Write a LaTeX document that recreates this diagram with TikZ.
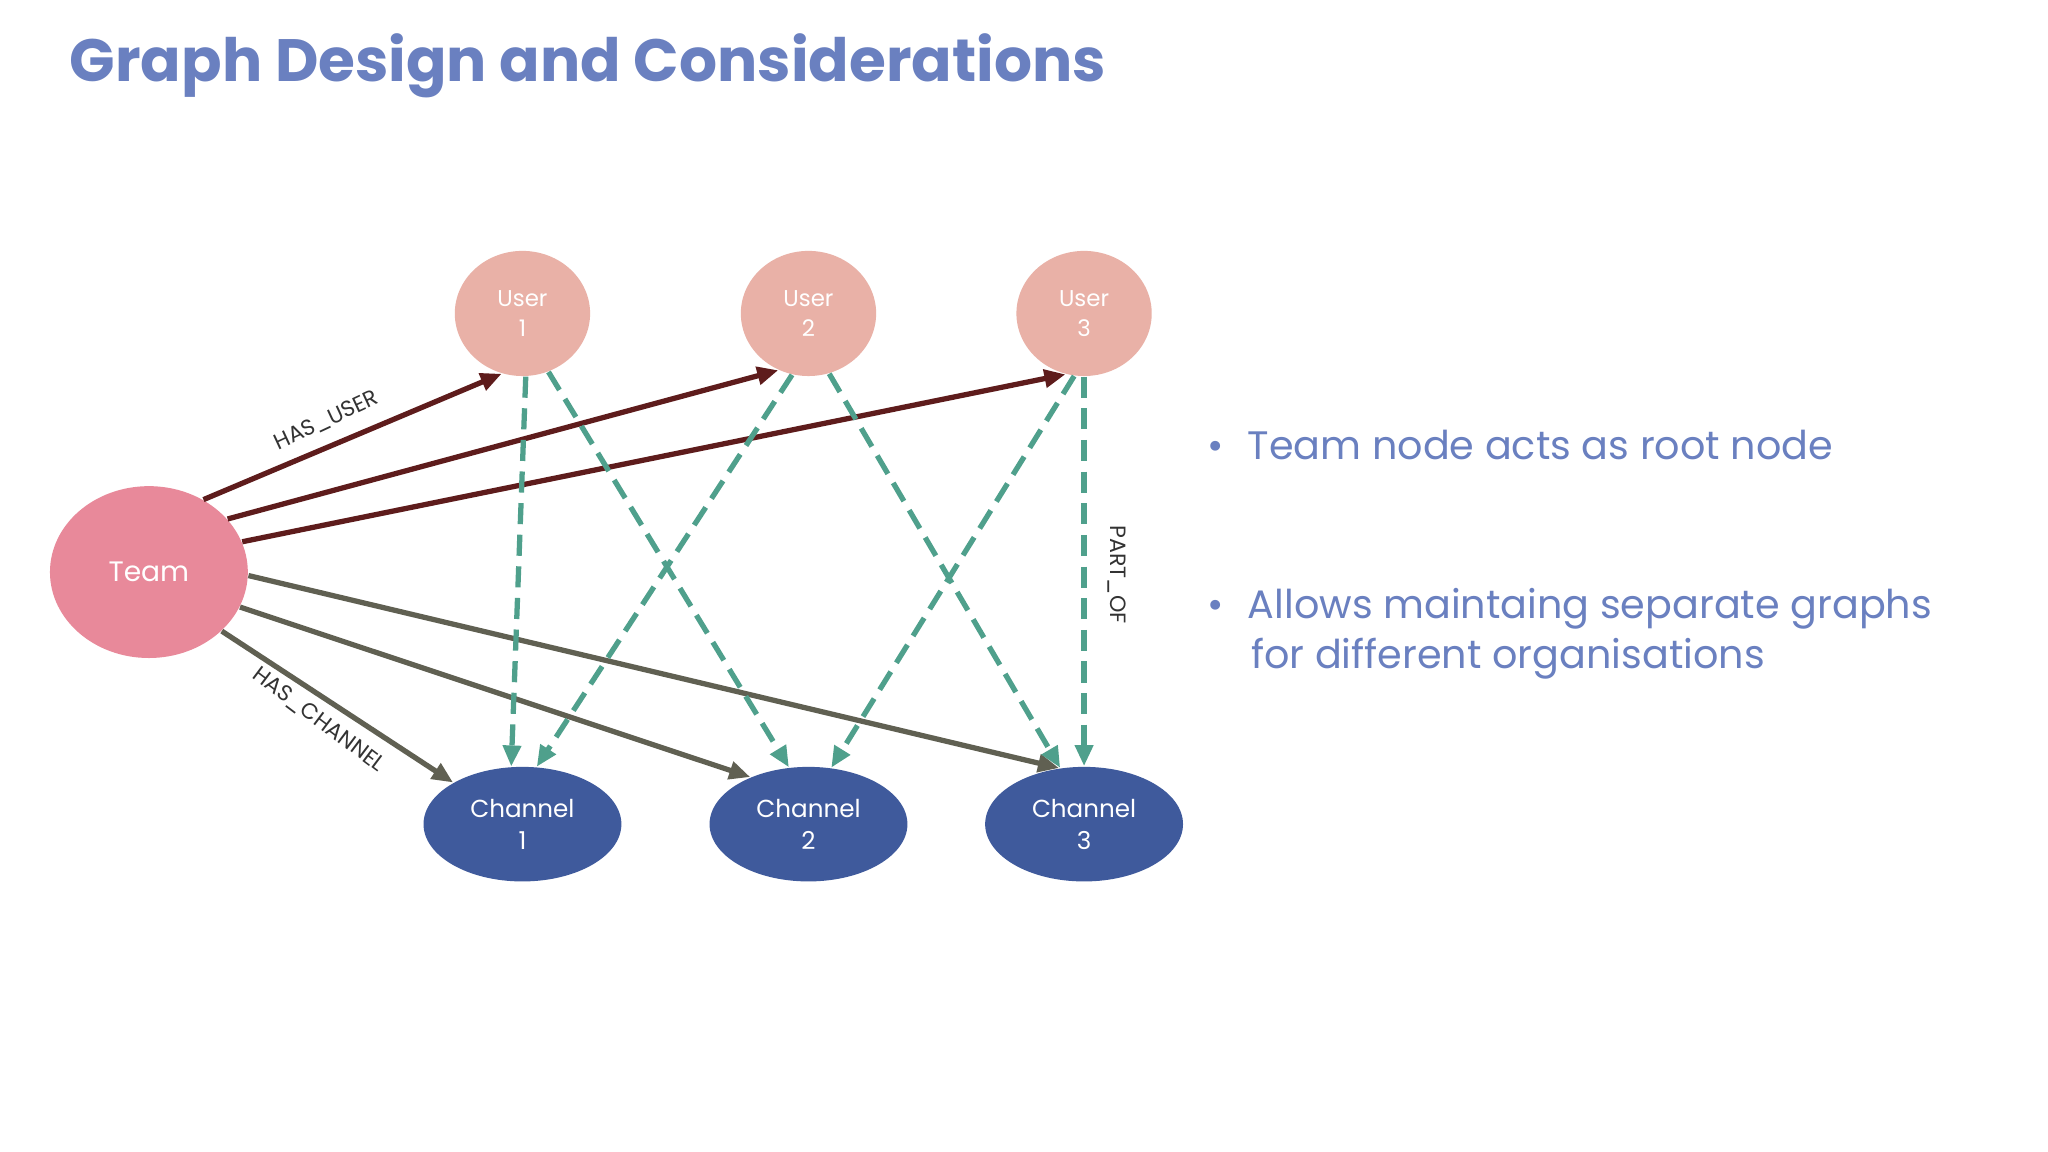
\documentclass[tikz,border=0pt]{standalone}
\usepackage{fontspec}
\setmainfont{Poppins}
\usetikzlibrary{shapes.geometric,arrows.meta}
\definecolor{ttl}{HTML}{6A80C0}
\definecolor{teamc}{HTML}{E8899A}
\definecolor{userc}{HTML}{E9B1A7}
\definecolor{chanc}{HTML}{3F5A9C}
\definecolor{hasu}{HTML}{5E1C1C}
\definecolor{hasc}{HTML}{606052}
\definecolor{part}{HTML}{4FA08C}
\begin{document}
\begin{tikzpicture}[x=0.013061cm,y=-0.013061cm,
  nd/.style={ellipse,inner sep=0pt,text=white,align=center,font=\fontsize{6.5}{8.5}\selectfont},
  team/.style={nd,fill=teamc,minimum width=56.3pt,minimum height=48.9pt,font=\fontsize{8}{10}\selectfont},
  user/.style={nd,fill=userc,minimum width=38.5pt,minimum height=35.6pt},
  chan/.style={nd,fill=chanc,minimum width=56.3pt,minimum height=32.6pt,font=\fontsize{7}{9}\selectfont},
  hu/.style={draw=hasu,line width=1.5pt,-{Triangle[length=6pt,width=5pt]}},
  hc/.style={draw=hasc,line width=1.5pt,-{Triangle[length=6pt,width=5pt]}},
  po/.style={draw=part,line width=1.5pt,dash pattern=on 6pt off 3pt,-{Triangle[length=6pt,width=5pt]}},
  lbl/.style={font=\fontsize{6.3}{7}\selectfont,text=black!80},
  bul/.style={anchor=west,text=ttl,font=\fontsize{11.3}{14.3}\selectfont,align=left}]
\useasboundingbox[fill=white] (0,0) rectangle (1568,882);
\node[anchor=west,text=ttl,font=\fontsize{17}{20}\bfseries\selectfont] (title) at (44,50) {Graph Design and Considerations};
\node[team] (team) at (114,438) {Team};
\node[user] (u1) at (400,240) {User\\1};
\node[user] (u2) at (619,240) {User\\2};
\node[user] (u3) at (830,240) {User\\3};
\node[chan] (c1) at (400,631) {Channel\\1};
\node[chan] (c2) at (619,631) {Channel\\2};
\node[chan] (c3) at (830,631) {Channel\\3};
\draw[hu] (team.53) -- (u1.-109);
\draw[hu] (team.34) -- (u2.-118);
\draw[hu] (team.18) -- (u3.-107);
\draw[hc] (team.-2) -- (c3.114);
\draw[hc] (team.-21) -- (c2.141);
\draw[hc] (team.-39) -- (c1.149);
\draw[po] (u1.-87) -- (c1.101);
\draw[po] (u1.-66) -- (c2.109);
\draw[po] (u2.-105) -- (c1.76);
\draw[po] (u2.-71) -- (c3.113);
\draw[po] (u3.-99) -- (c2.68);
\draw[po] (u3.-90) -- (c3.90);
\node[lbl,rotate=25] (l1) at (250,322) {HAS\_USER};
\node[lbl,rotate=-37] (l2) at (244,551) {HAS\_CHANNEL};
\node[lbl,rotate=-90] (l3) at (855,440) {PART\_OF};
\node[bul] (b1) at (915,341) {•\hspace{0.6em}Team node acts as root node};
\node[bul,anchor=north west] (b2) at (915,441) {•\hspace{0.6em}Allows maintaing separate graphs\\\hspace{1.1em}for different organisations};
\end{tikzpicture}
\end{document}
